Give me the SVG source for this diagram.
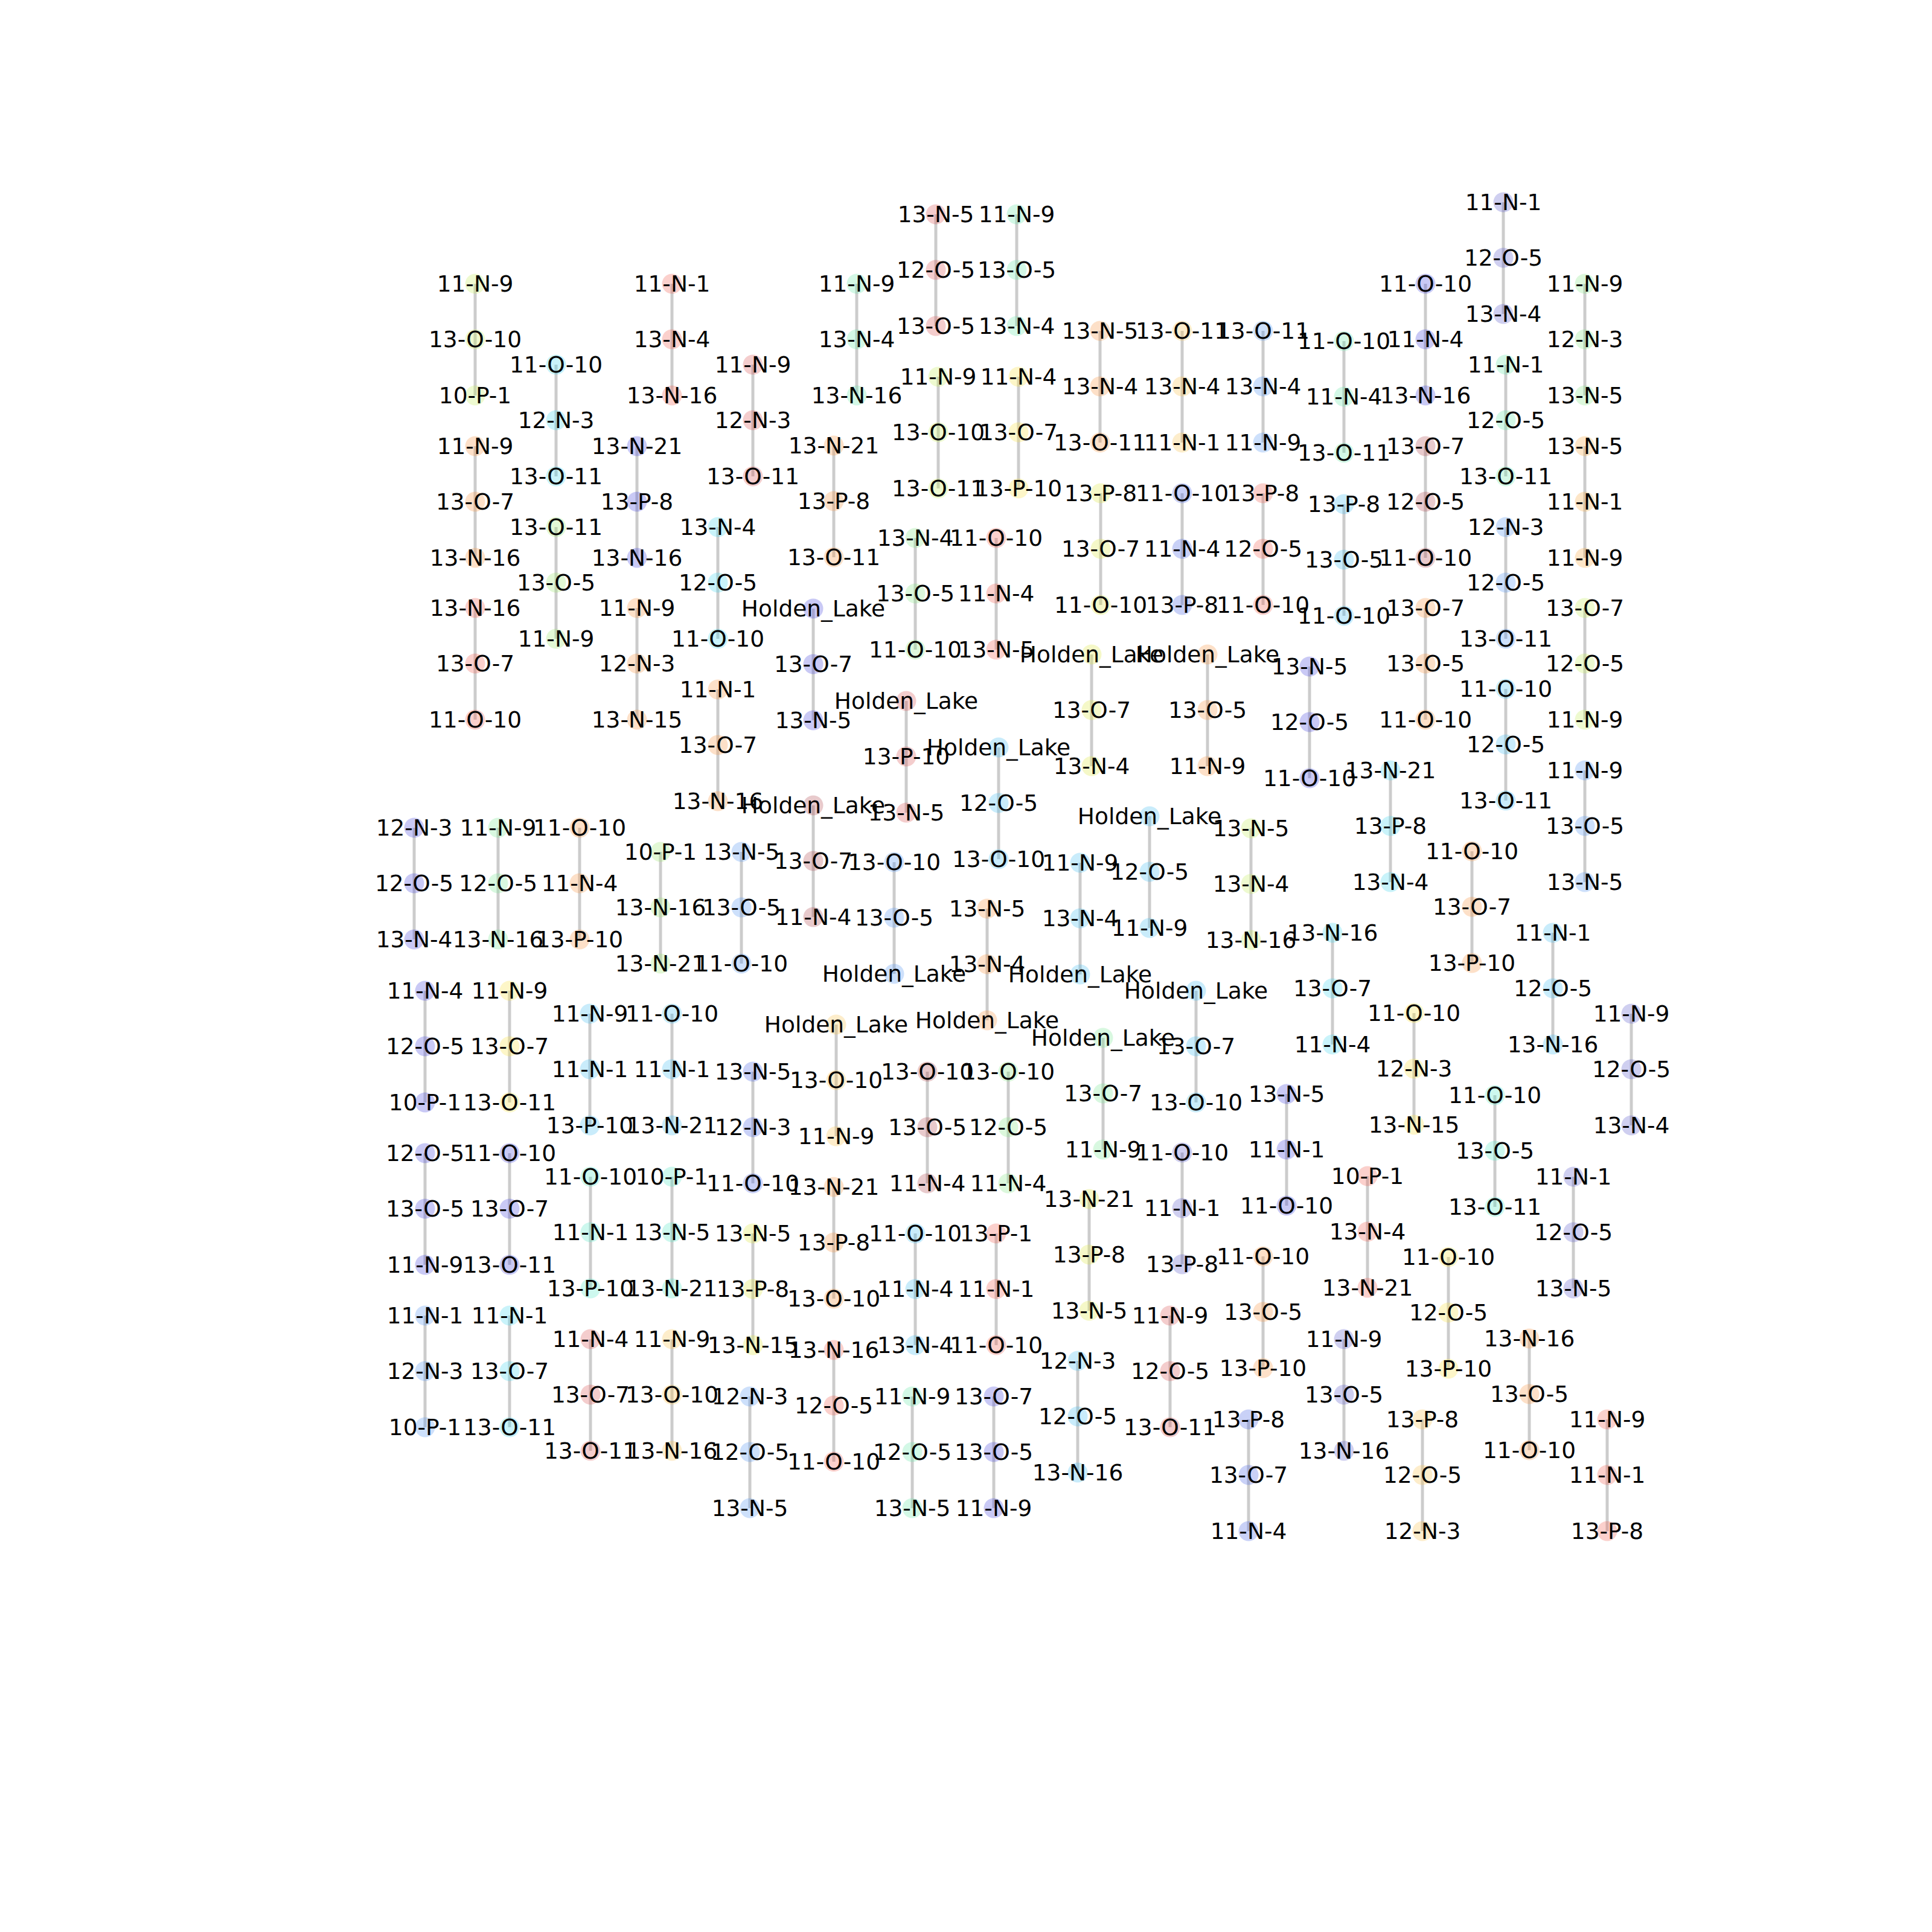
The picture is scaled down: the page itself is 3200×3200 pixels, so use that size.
<svg xmlns="http://www.w3.org/2000/svg" width="3200" height="3200" viewBox="0 0 3200 3200">
<style>
.edges line{stroke:#cccccc;stroke-width:5}
circle{fill-opacity:.3}
text{font-family:"DejaVu Sans","Liberation Sans",sans-serif;font-size:37.5px;text-anchor:middle;fill:#000}
.yg circle{fill:#c6ee62}.orange circle{fill:#f89848}.red circle{fill:#f26255}.cyan circle{fill:#4bd7ee}
.green circle{fill:#9ee873}.violet circle{fill:#4b4bde}.mint circle{fill:#6ce8ac}.yellow circle{fill:#f8e148}
.lightblue circle{fill:#5898f2}.mauve circle{fill:#b24e55}.lightorange circle{fill:#f8c352}.sky circle{fill:#4bc0f2}
.pinkred circle{fill:#da5858}.greyviolet circle{fill:#5f5fcd}.limegreen circle{fill:#8ae88a}.lemon circle{fill:#dee848}
.violetblue circle{fill:#4b66e5}.mintgreen circle{fill:#7de898}.aqua circle{fill:#58e8c6}.amber circle{fill:#f8ac48}
</style>
<rect width="3200" height="3200" fill="#ffffff"/>
<g id="edges" class="edges">
<line x1="787" y1="470" x2="787" y2="562"/><line x1="787" y1="562" x2="787" y2="655"/>
<line x1="787" y1="739" x2="787" y2="831"/><line x1="787" y1="831" x2="787" y2="924"/>
<line x1="787" y1="1007" x2="787" y2="1099"/><line x1="787" y1="1099" x2="787" y2="1192"/>
<line x1="921" y1="604" x2="921" y2="696"/><line x1="921" y1="696" x2="921" y2="789"/>
<line x1="921" y1="873" x2="921" y2="965"/><line x1="921" y1="965" x2="921" y2="1058"/>
<line x1="1113" y1="470" x2="1113" y2="562"/><line x1="1113" y1="562" x2="1113" y2="655"/>
<line x1="1055" y1="739" x2="1055" y2="831"/><line x1="1055" y1="831" x2="1055" y2="924"/>
<line x1="1055" y1="1007" x2="1055" y2="1099"/><line x1="1055" y1="1099" x2="1055" y2="1192"/>
<line x1="1247" y1="604" x2="1247" y2="696"/><line x1="1247" y1="696" x2="1247" y2="789"/>
<line x1="1189" y1="873" x2="1189" y2="965"/><line x1="1189" y1="965" x2="1189" y2="1058"/>
<line x1="1189" y1="1142" x2="1189" y2="1234"/><line x1="1189" y1="1234" x2="1189" y2="1327"/>
<line x1="1419" y1="470" x2="1419" y2="562"/><line x1="1419" y1="562" x2="1419" y2="655"/>
<line x1="1381" y1="738" x2="1381" y2="830"/><line x1="1381" y1="830" x2="1381" y2="923"/>
<line x1="1347" y1="1008" x2="1347" y2="1100"/><line x1="1347" y1="1100" x2="1347" y2="1193"/>
<line x1="1550" y1="355" x2="1550" y2="447"/><line x1="1550" y1="447" x2="1550" y2="540"/>
<line x1="1684" y1="355" x2="1684" y2="447"/><line x1="1684" y1="447" x2="1684" y2="540"/>
<line x1="1554" y1="624" x2="1554" y2="716"/><line x1="1554" y1="716" x2="1554" y2="809"/>
<line x1="1687" y1="624" x2="1687" y2="716"/><line x1="1687" y1="716" x2="1687" y2="809"/>
<line x1="1516" y1="891" x2="1516" y2="983"/><line x1="1516" y1="983" x2="1516" y2="1076"/>
<line x1="1650" y1="891" x2="1650" y2="983"/><line x1="1650" y1="983" x2="1650" y2="1076"/>
<line x1="1501" y1="1161" x2="1501" y2="1253"/><line x1="1501" y1="1253" x2="1501" y2="1346"/>
<line x1="1654" y1="1238" x2="1654" y2="1330"/><line x1="1654" y1="1330" x2="1654" y2="1423"/>
<line x1="1347" y1="1334" x2="1347" y2="1426"/><line x1="1347" y1="1426" x2="1347" y2="1519"/>
<line x1="1481" y1="1428" x2="1481" y2="1520"/><line x1="1481" y1="1520" x2="1481" y2="1613"/>
<line x1="1228" y1="1411" x2="1228" y2="1503"/><line x1="1228" y1="1503" x2="1228" y2="1596"/>
<line x1="1094" y1="1411" x2="1094" y2="1503"/><line x1="1094" y1="1503" x2="1094" y2="1596"/>
<line x1="1822" y1="548" x2="1822" y2="640"/><line x1="1822" y1="640" x2="1822" y2="733"/>
<line x1="1958" y1="548" x2="1958" y2="640"/><line x1="1958" y1="640" x2="1958" y2="733"/>
<line x1="2092" y1="548" x2="2092" y2="640"/><line x1="2092" y1="640" x2="2092" y2="733"/>
<line x1="1823" y1="817" x2="1823" y2="909"/><line x1="1823" y1="909" x2="1823" y2="1002"/>
<line x1="1958" y1="817" x2="1958" y2="909"/><line x1="1958" y1="909" x2="1958" y2="1002"/>
<line x1="2092" y1="817" x2="2092" y2="909"/><line x1="2092" y1="909" x2="2092" y2="1002"/>
<line x1="2226" y1="565" x2="2226" y2="657"/><line x1="2226" y1="657" x2="2226" y2="750"/>
<line x1="2226" y1="835" x2="2226" y2="927"/><line x1="2226" y1="927" x2="2226" y2="1020"/>
<line x1="2361" y1="470" x2="2361" y2="562"/><line x1="2361" y1="562" x2="2361" y2="655"/>
<line x1="2361" y1="739" x2="2361" y2="831"/><line x1="2361" y1="831" x2="2361" y2="924"/>
<line x1="2361" y1="1007" x2="2361" y2="1099"/><line x1="2361" y1="1099" x2="2361" y2="1192"/>
<line x1="2490" y1="335" x2="2490" y2="427"/><line x1="2490" y1="427" x2="2490" y2="520"/>
<line x1="2494" y1="604" x2="2494" y2="696"/><line x1="2494" y1="696" x2="2494" y2="789"/>
<line x1="2494" y1="873" x2="2494" y2="965"/><line x1="2494" y1="965" x2="2494" y2="1058"/>
<line x1="2494" y1="1141" x2="2494" y2="1233"/><line x1="2494" y1="1233" x2="2494" y2="1326"/>
<line x1="2625" y1="470" x2="2625" y2="562"/><line x1="2625" y1="562" x2="2625" y2="655"/>
<line x1="2625" y1="739" x2="2625" y2="831"/><line x1="2625" y1="831" x2="2625" y2="924"/>
<line x1="2625" y1="1007" x2="2625" y2="1099"/><line x1="2625" y1="1099" x2="2625" y2="1192"/>
<line x1="2625" y1="1276" x2="2625" y2="1368"/><line x1="2625" y1="1368" x2="2625" y2="1461"/>
<line x1="1808" y1="1084" x2="1808" y2="1176"/><line x1="1808" y1="1176" x2="1808" y2="1269"/>
<line x1="2000" y1="1084" x2="2000" y2="1176"/><line x1="2000" y1="1176" x2="2000" y2="1269"/>
<line x1="2169" y1="1104" x2="2169" y2="1196"/><line x1="2169" y1="1196" x2="2169" y2="1289"/>
<line x1="1904" y1="1352" x2="1904" y2="1444"/><line x1="1904" y1="1444" x2="1904" y2="1537"/>
<line x1="1789" y1="1429" x2="1789" y2="1521"/><line x1="1789" y1="1521" x2="1789" y2="1614"/>
<line x1="2072" y1="1372" x2="2072" y2="1464"/><line x1="2072" y1="1464" x2="2072" y2="1557"/>
<line x1="2303" y1="1276" x2="2303" y2="1368"/><line x1="2303" y1="1368" x2="2303" y2="1461"/>
<line x1="2207" y1="1545" x2="2207" y2="1637"/><line x1="2207" y1="1637" x2="2207" y2="1730"/>
<line x1="2438" y1="1410" x2="2438" y2="1502"/><line x1="2438" y1="1502" x2="2438" y2="1595"/>
<line x1="2572" y1="1545" x2="2572" y2="1637"/><line x1="2572" y1="1637" x2="2572" y2="1730"/>
<line x1="2702" y1="1679" x2="2702" y2="1771"/><line x1="2702" y1="1771" x2="2702" y2="1864"/>
<line x1="1635" y1="1505" x2="1635" y2="1597"/><line x1="1635" y1="1597" x2="1635" y2="1690"/>
<line x1="1385" y1="1697" x2="1385" y2="1789"/><line x1="1385" y1="1789" x2="1385" y2="1882"/>
<line x1="1981" y1="1641" x2="1981" y2="1733"/><line x1="1981" y1="1733" x2="1981" y2="1826"/>
<line x1="1827" y1="1719" x2="1827" y2="1811"/><line x1="1827" y1="1811" x2="1827" y2="1904"/>
<line x1="686" y1="1371" x2="686" y2="1463"/><line x1="686" y1="1463" x2="686" y2="1556"/>
<line x1="825" y1="1371" x2="825" y2="1463"/><line x1="825" y1="1463" x2="825" y2="1556"/>
<line x1="960" y1="1371" x2="960" y2="1463"/><line x1="960" y1="1463" x2="960" y2="1556"/>
<line x1="704" y1="1641" x2="704" y2="1733"/><line x1="704" y1="1733" x2="704" y2="1826"/>
<line x1="844" y1="1641" x2="844" y2="1733"/><line x1="844" y1="1733" x2="844" y2="1826"/>
<line x1="704" y1="1910" x2="704" y2="2002"/><line x1="704" y1="2002" x2="704" y2="2095"/>
<line x1="844" y1="1910" x2="844" y2="2002"/><line x1="844" y1="2002" x2="844" y2="2095"/>
<line x1="704" y1="2179" x2="704" y2="2271"/><line x1="704" y1="2271" x2="704" y2="2364"/>
<line x1="844" y1="2179" x2="844" y2="2271"/><line x1="844" y1="2271" x2="844" y2="2364"/>
<line x1="977" y1="1679" x2="977" y2="1771"/><line x1="977" y1="1771" x2="977" y2="1864"/>
<line x1="1113" y1="1679" x2="1113" y2="1771"/><line x1="1113" y1="1771" x2="1113" y2="1864"/>
<line x1="978" y1="1949" x2="978" y2="2041"/><line x1="978" y1="2041" x2="978" y2="2134"/>
<line x1="1113" y1="1949" x2="1113" y2="2041"/><line x1="1113" y1="2041" x2="1113" y2="2134"/>
<line x1="978" y1="2218" x2="978" y2="2310"/><line x1="978" y1="2310" x2="978" y2="2403"/>
<line x1="1113" y1="2218" x2="1113" y2="2310"/><line x1="1113" y1="2310" x2="1113" y2="2403"/>
<line x1="1247" y1="1775" x2="1247" y2="1867"/><line x1="1247" y1="1867" x2="1247" y2="1960"/>
<line x1="1247" y1="2043" x2="1247" y2="2135"/><line x1="1247" y1="2135" x2="1247" y2="2228"/>
<line x1="1242" y1="2313" x2="1242" y2="2405"/><line x1="1242" y1="2405" x2="1242" y2="2498"/>
<line x1="1381" y1="1966" x2="1381" y2="2058"/><line x1="1381" y1="2058" x2="1381" y2="2151"/>
<line x1="1381" y1="2236" x2="1381" y2="2328"/><line x1="1381" y1="2328" x2="1381" y2="2421"/>
<line x1="1536" y1="1775" x2="1536" y2="1867"/><line x1="1536" y1="1867" x2="1536" y2="1960"/>
<line x1="1670" y1="1775" x2="1670" y2="1867"/><line x1="1670" y1="1867" x2="1670" y2="1960"/>
<line x1="1516" y1="2043" x2="1516" y2="2135"/><line x1="1516" y1="2135" x2="1516" y2="2228"/>
<line x1="1650" y1="2043" x2="1650" y2="2135"/><line x1="1650" y1="2135" x2="1650" y2="2228"/>
<line x1="1511" y1="2313" x2="1511" y2="2405"/><line x1="1511" y1="2405" x2="1511" y2="2498"/>
<line x1="1646" y1="2313" x2="1646" y2="2405"/><line x1="1646" y1="2405" x2="1646" y2="2498"/>
<line x1="1804" y1="1986" x2="1804" y2="2078"/><line x1="1804" y1="2078" x2="1804" y2="2171"/>
<line x1="1785" y1="2254" x2="1785" y2="2346"/><line x1="1785" y1="2346" x2="1785" y2="2439"/>
<line x1="1958" y1="1909" x2="1958" y2="2001"/><line x1="1958" y1="2001" x2="1958" y2="2094"/>
<line x1="1938" y1="2179" x2="1938" y2="2271"/><line x1="1938" y1="2271" x2="1938" y2="2364"/>
<line x1="2131" y1="1812" x2="2131" y2="1904"/><line x1="2131" y1="1904" x2="2131" y2="1997"/>
<line x1="2092" y1="2081" x2="2092" y2="2173"/><line x1="2092" y1="2173" x2="2092" y2="2266"/>
<line x1="2068" y1="2351" x2="2068" y2="2443"/><line x1="2068" y1="2443" x2="2068" y2="2536"/>
<line x1="2226" y1="2218" x2="2226" y2="2310"/><line x1="2226" y1="2310" x2="2226" y2="2403"/>
<line x1="2265" y1="1948" x2="2265" y2="2040"/><line x1="2265" y1="2040" x2="2265" y2="2133"/>
<line x1="2342" y1="1678" x2="2342" y2="1770"/><line x1="2342" y1="1770" x2="2342" y2="1863"/>
<line x1="2476" y1="1814" x2="2476" y2="1906"/><line x1="2476" y1="1906" x2="2476" y2="1999"/>
<line x1="2399" y1="2082" x2="2399" y2="2174"/><line x1="2399" y1="2174" x2="2399" y2="2267"/>
<line x1="2606" y1="1949" x2="2606" y2="2041"/><line x1="2606" y1="2041" x2="2606" y2="2134"/>
<line x1="2533" y1="2217" x2="2533" y2="2309"/><line x1="2533" y1="2309" x2="2533" y2="2402"/>
<line x1="2356" y1="2351" x2="2356" y2="2443"/><line x1="2356" y1="2443" x2="2356" y2="2536"/>
<line x1="2662" y1="2351" x2="2662" y2="2443"/><line x1="2662" y1="2443" x2="2662" y2="2536"/>
</g>
<g id="nodes">
<g id="n1a" class="yg"><circle cx="787" cy="470" r="16.5"/><text x="787" y="483">11-N-9</text></g>
<g id="n1b" class="yg"><circle cx="787" cy="562" r="16.5"/><text x="787" y="575">13-O-10</text></g>
<g id="n1c" class="yg"><circle cx="787" cy="655" r="16.5"/><text x="787" y="668">10-P-1</text></g>
<g id="n2a" class="orange"><circle cx="787" cy="739" r="16.5"/><text x="787" y="752">11-N-9</text></g>
<g id="n2b" class="orange"><circle cx="787" cy="831" r="16.5"/><text x="787" y="844">13-O-7</text></g>
<g id="n2c" class="orange"><circle cx="787" cy="924" r="16.5"/><text x="787" y="937">13-N-16</text></g>
<g id="n3a" class="red"><circle cx="787" cy="1007" r="16.5"/><text x="787" y="1020">13-N-16</text></g>
<g id="n3b" class="red"><circle cx="787" cy="1099" r="16.5"/><text x="787" y="1112">13-O-7</text></g>
<g id="n3c" class="red"><circle cx="787" cy="1192" r="16.5"/><text x="787" y="1205">11-O-10</text></g>
<g id="n4a" class="cyan"><circle cx="921" cy="604" r="16.5"/><text x="921" y="617">11-O-10</text></g>
<g id="n4b" class="cyan"><circle cx="921" cy="696" r="16.5"/><text x="921" y="709">12-N-3</text></g>
<g id="n4c" class="cyan"><circle cx="921" cy="789" r="16.5"/><text x="921" y="802">13-O-11</text></g>
<g id="n5a" class="green"><circle cx="921" cy="873" r="16.5"/><text x="921" y="886">13-O-11</text></g>
<g id="n5b" class="green"><circle cx="921" cy="965" r="16.5"/><text x="921" y="978">13-O-5</text></g>
<g id="n5c" class="green"><circle cx="921" cy="1058" r="16.5"/><text x="921" y="1071">11-N-9</text></g>
<g id="n6a" class="red"><circle cx="1113" cy="470" r="16.5"/><text x="1113" y="483">11-N-1</text></g>
<g id="n6b" class="red"><circle cx="1113" cy="562" r="16.5"/><text x="1113" y="575">13-N-4</text></g>
<g id="n6c" class="red"><circle cx="1113" cy="655" r="16.5"/><text x="1113" y="668">13-N-16</text></g>
<g id="n7a" class="violet"><circle cx="1055" cy="739" r="16.5"/><text x="1055" y="752">13-N-21</text></g>
<g id="n7b" class="violet"><circle cx="1055" cy="831" r="16.5"/><text x="1055" y="844">13-P-8</text></g>
<g id="n7c" class="violet"><circle cx="1055" cy="924" r="16.5"/><text x="1055" y="937">13-N-16</text></g>
<g id="n8a" class="orange"><circle cx="1055" cy="1007" r="16.5"/><text x="1055" y="1020">11-N-9</text></g>
<g id="n8b" class="orange"><circle cx="1055" cy="1099" r="16.5"/><text x="1055" y="1112">12-N-3</text></g>
<g id="n8c" class="orange"><circle cx="1055" cy="1192" r="16.5"/><text x="1055" y="1205">13-N-15</text></g>
<g id="n9a" class="pinkred"><circle cx="1247" cy="604" r="16.5"/><text x="1247" y="617">11-N-9</text></g>
<g id="n9b" class="pinkred"><circle cx="1247" cy="696" r="16.5"/><text x="1247" y="709">12-N-3</text></g>
<g id="n9c" class="pinkred"><circle cx="1247" cy="789" r="16.5"/><text x="1247" y="802">13-O-11</text></g>
<g id="n10a" class="cyan"><circle cx="1189" cy="873" r="16.5"/><text x="1189" y="886">13-N-4</text></g>
<g id="n10b" class="cyan"><circle cx="1189" cy="965" r="16.5"/><text x="1189" y="978">12-O-5</text></g>
<g id="n10c" class="cyan"><circle cx="1189" cy="1058" r="16.5"/><text x="1189" y="1071">11-O-10</text></g>
<g id="n11a" class="orange"><circle cx="1189" cy="1142" r="16.5"/><text x="1189" y="1155">11-N-1</text></g>
<g id="n11b" class="orange"><circle cx="1189" cy="1234" r="16.5"/><text x="1189" y="1247">13-O-7</text></g>
<g id="n11c" class="orange"><circle cx="1189" cy="1327" r="16.5"/><text x="1189" y="1340">13-N-16</text></g>
<g id="n12a" class="mint"><circle cx="1419" cy="470" r="16.5"/><text x="1419" y="483">11-N-9</text></g>
<g id="n12b" class="mint"><circle cx="1419" cy="562" r="16.5"/><text x="1419" y="575">13-N-4</text></g>
<g id="n12c" class="mint"><circle cx="1419" cy="655" r="16.5"/><text x="1419" y="668">13-N-16</text></g>
<g id="n13a" class="orange"><circle cx="1381" cy="738" r="16.5"/><text x="1381" y="751">13-N-21</text></g>
<g id="n13b" class="orange"><circle cx="1381" cy="830" r="16.5"/><text x="1381" y="843">13-P-8</text></g>
<g id="n13c" class="orange"><circle cx="1381" cy="923" r="16.5"/><text x="1381" y="936">13-O-11</text></g>
<g id="n14a" class="violet"><circle cx="1347" cy="1008" r="16.5"/><text x="1347" y="1021">Holden_Lake</text></g>
<g id="n14b" class="violet"><circle cx="1347" cy="1100" r="16.5"/><text x="1347" y="1113">13-O-7</text></g>
<g id="n14c" class="violet"><circle cx="1347" cy="1193" r="16.5"/><text x="1347" y="1206">13-N-5</text></g>
<g id="n15a" class="pinkred"><circle cx="1550" cy="355" r="16.5"/><text x="1550" y="368">13-N-5</text></g>
<g id="n15b" class="pinkred"><circle cx="1550" cy="447" r="16.5"/><text x="1550" y="460">12-O-5</text></g>
<g id="n15c" class="pinkred"><circle cx="1550" cy="540" r="16.5"/><text x="1550" y="553">13-O-5</text></g>
<g id="n16a" class="mint"><circle cx="1684" cy="355" r="16.5"/><text x="1684" y="368">11-N-9</text></g>
<g id="n16b" class="mint"><circle cx="1684" cy="447" r="16.5"/><text x="1684" y="460">13-O-5</text></g>
<g id="n16c" class="mint"><circle cx="1684" cy="540" r="16.5"/><text x="1684" y="553">13-N-4</text></g>
<g id="n17a" class="yg"><circle cx="1554" cy="624" r="16.5"/><text x="1554" y="637">11-N-9</text></g>
<g id="n17b" class="yg"><circle cx="1554" cy="716" r="16.5"/><text x="1554" y="729">13-O-10</text></g>
<g id="n17c" class="yg"><circle cx="1554" cy="809" r="16.5"/><text x="1554" y="822">13-O-11</text></g>
<g id="n18a" class="yellow"><circle cx="1687" cy="624" r="16.5"/><text x="1687" y="637">11-N-4</text></g>
<g id="n18b" class="yellow"><circle cx="1687" cy="716" r="16.5"/><text x="1687" y="729">13-O-7</text></g>
<g id="n18c" class="yellow"><circle cx="1687" cy="809" r="16.5"/><text x="1687" y="822">13-P-10</text></g>
<g id="n19a" class="limegreen"><circle cx="1516" cy="891" r="16.5"/><text x="1516" y="904">13-N-4</text></g>
<g id="n19b" class="limegreen"><circle cx="1516" cy="983" r="16.5"/><text x="1516" y="996">13-O-5</text></g>
<g id="n19c" class="limegreen"><circle cx="1516" cy="1076" r="16.5"/><text x="1516" y="1089">11-O-10</text></g>
<g id="n20a" class="red"><circle cx="1650" cy="891" r="16.5"/><text x="1650" y="904">11-O-10</text></g>
<g id="n20b" class="red"><circle cx="1650" cy="983" r="16.5"/><text x="1650" y="996">11-N-4</text></g>
<g id="n20c" class="red"><circle cx="1650" cy="1076" r="16.5"/><text x="1650" y="1089">13-N-5</text></g>
<g id="n21a" class="pinkred"><circle cx="1501" cy="1161" r="16.5"/><text x="1501" y="1174">Holden_Lake</text></g>
<g id="n21b" class="pinkred"><circle cx="1501" cy="1253" r="16.5"/><text x="1501" y="1266">13-P-10</text></g>
<g id="n21c" class="pinkred"><circle cx="1501" cy="1346" r="16.5"/><text x="1501" y="1359">13-N-5</text></g>
<g id="n22a" class="sky"><circle cx="1654" cy="1238" r="16.5"/><text x="1654" y="1251">Holden_Lake</text></g>
<g id="n22b" class="sky"><circle cx="1654" cy="1330" r="16.5"/><text x="1654" y="1343">12-O-5</text></g>
<g id="n22c" class="sky"><circle cx="1654" cy="1423" r="16.5"/><text x="1654" y="1436">13-O-10</text></g>
<g id="n23a" class="mauve"><circle cx="1347" cy="1334" r="16.5"/><text x="1347" y="1347">Holden_Lake</text></g>
<g id="n23b" class="mauve"><circle cx="1347" cy="1426" r="16.5"/><text x="1347" y="1439">13-O-7</text></g>
<g id="n23c" class="mauve"><circle cx="1347" cy="1519" r="16.5"/><text x="1347" y="1532">11-N-4</text></g>
<g id="n24a" class="lightblue"><circle cx="1481" cy="1428" r="16.5"/><text x="1481" y="1441">13-O-10</text></g>
<g id="n24b" class="lightblue"><circle cx="1481" cy="1520" r="16.5"/><text x="1481" y="1533">13-O-5</text></g>
<g id="n24c" class="lightblue"><circle cx="1481" cy="1613" r="16.5"/><text x="1481" y="1626">Holden_Lake</text></g>
<g id="n25a" class="lightblue"><circle cx="1228" cy="1411" r="16.5"/><text x="1228" y="1424">13-N-5</text></g>
<g id="n25b" class="lightblue"><circle cx="1228" cy="1503" r="16.5"/><text x="1228" y="1516">13-O-5</text></g>
<g id="n25c" class="lightblue"><circle cx="1228" cy="1596" r="16.5"/><text x="1228" y="1609">11-O-10</text></g>
<g id="n26a" class="green"><circle cx="1094" cy="1411" r="16.5"/><text x="1094" y="1424">10-P-1</text></g>
<g id="n26b" class="green"><circle cx="1094" cy="1503" r="16.5"/><text x="1094" y="1516">13-N-16</text></g>
<g id="n26c" class="green"><circle cx="1094" cy="1596" r="16.5"/><text x="1094" y="1609">13-N-21</text></g>
<g id="n27a" class="orange"><circle cx="1822" cy="548" r="16.5"/><text x="1822" y="561">13-N-5</text></g>
<g id="n27b" class="orange"><circle cx="1822" cy="640" r="16.5"/><text x="1822" y="653">13-N-4</text></g>
<g id="n27c" class="orange"><circle cx="1822" cy="733" r="16.5"/><text x="1822" y="746">13-O-11</text></g>
<g id="n28a" class="lightorange"><circle cx="1958" cy="548" r="16.5"/><text x="1958" y="561">13-O-11</text></g>
<g id="n28b" class="lightorange"><circle cx="1958" cy="640" r="16.5"/><text x="1958" y="653">13-N-4</text></g>
<g id="n28c" class="lightorange"><circle cx="1958" cy="733" r="16.5"/><text x="1958" y="746">11-N-1</text></g>
<g id="n29a" class="lightblue"><circle cx="2092" cy="548" r="16.5"/><text x="2092" y="561">13-O-11</text></g>
<g id="n29b" class="lightblue"><circle cx="2092" cy="640" r="16.5"/><text x="2092" y="653">13-N-4</text></g>
<g id="n29c" class="lightblue"><circle cx="2092" cy="733" r="16.5"/><text x="2092" y="746">11-N-9</text></g>
<g id="n30a" class="lemon"><circle cx="1823" cy="817" r="16.5"/><text x="1823" y="830">13-P-8</text></g>
<g id="n30b" class="lemon"><circle cx="1823" cy="909" r="16.5"/><text x="1823" y="922">13-O-7</text></g>
<g id="n30c" class="lemon"><circle cx="1823" cy="1002" r="16.5"/><text x="1823" y="1015">11-O-10</text></g>
<g id="n31a" class="violetblue"><circle cx="1958" cy="817" r="16.5"/><text x="1958" y="830">11-O-10</text></g>
<g id="n31b" class="violetblue"><circle cx="1958" cy="909" r="16.5"/><text x="1958" y="922">11-N-4</text></g>
<g id="n31c" class="violetblue"><circle cx="1958" cy="1002" r="16.5"/><text x="1958" y="1015">13-P-8</text></g>
<g id="n32a" class="red"><circle cx="2092" cy="817" r="16.5"/><text x="2092" y="830">13-P-8</text></g>
<g id="n32b" class="red"><circle cx="2092" cy="909" r="16.5"/><text x="2092" y="922">12-O-5</text></g>
<g id="n32c" class="red"><circle cx="2092" cy="1002" r="16.5"/><text x="2092" y="1015">11-O-10</text></g>
<g id="n33a" class="mint"><circle cx="2226" cy="565" r="16.5"/><text x="2226" y="578">11-O-10</text></g>
<g id="n33b" class="mint"><circle cx="2226" cy="657" r="16.5"/><text x="2226" y="670">11-N-4</text></g>
<g id="n33c" class="mint"><circle cx="2226" cy="750" r="16.5"/><text x="2226" y="763">13-O-11</text></g>
<g id="n34a" class="sky"><circle cx="2226" cy="835" r="16.5"/><text x="2226" y="848">13-P-8</text></g>
<g id="n34b" class="sky"><circle cx="2226" cy="927" r="16.5"/><text x="2226" y="940">13-O-5</text></g>
<g id="n34c" class="sky"><circle cx="2226" cy="1020" r="16.5"/><text x="2226" y="1033">11-O-10</text></g>
<g id="n35a" class="violet"><circle cx="2361" cy="470" r="16.5"/><text x="2361" y="483">11-O-10</text></g>
<g id="n35b" class="violet"><circle cx="2361" cy="562" r="16.5"/><text x="2361" y="575">11-N-4</text></g>
<g id="n35c" class="violet"><circle cx="2361" cy="655" r="16.5"/><text x="2361" y="668">13-N-16</text></g>
<g id="n36a" class="mauve"><circle cx="2361" cy="739" r="16.5"/><text x="2361" y="752">13-O-7</text></g>
<g id="n36b" class="mauve"><circle cx="2361" cy="831" r="16.5"/><text x="2361" y="844">12-O-5</text></g>
<g id="n36c" class="mauve"><circle cx="2361" cy="924" r="16.5"/><text x="2361" y="937">11-O-10</text></g>
<g id="n37a" class="orange"><circle cx="2361" cy="1007" r="16.5"/><text x="2361" y="1020">13-O-7</text></g>
<g id="n37b" class="orange"><circle cx="2361" cy="1099" r="16.5"/><text x="2361" y="1112">13-O-5</text></g>
<g id="n37c" class="orange"><circle cx="2361" cy="1192" r="16.5"/><text x="2361" y="1205">11-O-10</text></g>
<g id="n38a" class="greyviolet"><circle cx="2490" cy="335" r="16.5"/><text x="2490" y="348">11-N-1</text></g>
<g id="n38b" class="greyviolet"><circle cx="2490" cy="427" r="16.5"/><text x="2490" y="440">12-O-5</text></g>
<g id="n38c" class="greyviolet"><circle cx="2490" cy="520" r="16.5"/><text x="2490" y="533">13-N-4</text></g>
<g id="n39a" class="mint"><circle cx="2494" cy="604" r="16.5"/><text x="2494" y="617">11-N-1</text></g>
<g id="n39b" class="mint"><circle cx="2494" cy="696" r="16.5"/><text x="2494" y="709">12-O-5</text></g>
<g id="n39c" class="mint"><circle cx="2494" cy="789" r="16.5"/><text x="2494" y="802">13-O-11</text></g>
<g id="n40a" class="lightblue"><circle cx="2494" cy="873" r="16.5"/><text x="2494" y="886">12-N-3</text></g>
<g id="n40b" class="lightblue"><circle cx="2494" cy="965" r="16.5"/><text x="2494" y="978">12-O-5</text></g>
<g id="n40c" class="lightblue"><circle cx="2494" cy="1058" r="16.5"/><text x="2494" y="1071">13-O-11</text></g>
<g id="n41a" class="sky"><circle cx="2494" cy="1141" r="16.5"/><text x="2494" y="1154">11-O-10</text></g>
<g id="n41b" class="sky"><circle cx="2494" cy="1233" r="16.5"/><text x="2494" y="1246">12-O-5</text></g>
<g id="n41c" class="sky"><circle cx="2494" cy="1326" r="16.5"/><text x="2494" y="1339">13-O-11</text></g>
<g id="n42a" class="limegreen"><circle cx="2625" cy="470" r="16.5"/><text x="2625" y="483">11-N-9</text></g>
<g id="n42b" class="limegreen"><circle cx="2625" cy="562" r="16.5"/><text x="2625" y="575">12-N-3</text></g>
<g id="n42c" class="limegreen"><circle cx="2625" cy="655" r="16.5"/><text x="2625" y="668">13-N-5</text></g>
<g id="n43a" class="amber"><circle cx="2625" cy="739" r="16.5"/><text x="2625" y="752">13-N-5</text></g>
<g id="n43b" class="amber"><circle cx="2625" cy="831" r="16.5"/><text x="2625" y="844">11-N-1</text></g>
<g id="n43c" class="amber"><circle cx="2625" cy="924" r="16.5"/><text x="2625" y="937">11-N-9</text></g>
<g id="n44a" class="yg"><circle cx="2625" cy="1007" r="16.5"/><text x="2625" y="1020">13-O-7</text></g>
<g id="n44b" class="yg"><circle cx="2625" cy="1099" r="16.5"/><text x="2625" y="1112">12-O-5</text></g>
<g id="n44c" class="yg"><circle cx="2625" cy="1192" r="16.5"/><text x="2625" y="1205">11-N-9</text></g>
<g id="n45a" class="lightblue"><circle cx="2625" cy="1276" r="16.5"/><text x="2625" y="1289">11-N-9</text></g>
<g id="n45b" class="lightblue"><circle cx="2625" cy="1368" r="16.5"/><text x="2625" y="1381">13-O-5</text></g>
<g id="n45c" class="lightblue"><circle cx="2625" cy="1461" r="16.5"/><text x="2625" y="1474">13-N-5</text></g>
<g id="n46a" class="lemon"><circle cx="1808" cy="1084" r="16.5"/><text x="1808" y="1097">Holden_Lake</text></g>
<g id="n46b" class="lemon"><circle cx="1808" cy="1176" r="16.5"/><text x="1808" y="1189">13-O-7</text></g>
<g id="n46c" class="lemon"><circle cx="1808" cy="1269" r="16.5"/><text x="1808" y="1282">13-N-4</text></g>
<g id="n47a" class="orange"><circle cx="2000" cy="1084" r="16.5"/><text x="2000" y="1097">Holden_Lake</text></g>
<g id="n47b" class="orange"><circle cx="2000" cy="1176" r="16.5"/><text x="2000" y="1189">13-O-5</text></g>
<g id="n47c" class="orange"><circle cx="2000" cy="1269" r="16.5"/><text x="2000" y="1282">11-N-9</text></g>
<g id="n48a" class="violet"><circle cx="2169" cy="1104" r="16.5"/><text x="2169" y="1117">13-N-5</text></g>
<g id="n48b" class="violet"><circle cx="2169" cy="1196" r="16.5"/><text x="2169" y="1209">12-O-5</text></g>
<g id="n48c" class="violet"><circle cx="2169" cy="1289" r="16.5"/><text x="2169" y="1302">11-O-10</text></g>
<g id="n49a" class="sky"><circle cx="1904" cy="1352" r="16.5"/><text x="1904" y="1365">Holden_Lake</text></g>
<g id="n49b" class="sky"><circle cx="1904" cy="1444" r="16.5"/><text x="1904" y="1457">12-O-5</text></g>
<g id="n49c" class="sky"><circle cx="1904" cy="1537" r="16.5"/><text x="1904" y="1550">11-N-9</text></g>
<g id="n50a" class="sky"><circle cx="1789" cy="1429" r="16.5"/><text x="1789" y="1442">11-N-9</text></g>
<g id="n50b" class="sky"><circle cx="1789" cy="1521" r="16.5"/><text x="1789" y="1534">13-N-4</text></g>
<g id="n50c" class="sky"><circle cx="1789" cy="1614" r="16.5"/><text x="1789" y="1627">Holden_Lake</text></g>
<g id="n51a" class="yg"><circle cx="2072" cy="1372" r="16.5"/><text x="2072" y="1385">13-N-5</text></g>
<g id="n51b" class="yg"><circle cx="2072" cy="1464" r="16.5"/><text x="2072" y="1477">13-N-4</text></g>
<g id="n51c" class="yg"><circle cx="2072" cy="1557" r="16.5"/><text x="2072" y="1570">13-N-16</text></g>
<g id="n52a" class="cyan"><circle cx="2303" cy="1276" r="16.5"/><text x="2303" y="1289">13-N-21</text></g>
<g id="n52b" class="cyan"><circle cx="2303" cy="1368" r="16.5"/><text x="2303" y="1381">13-P-8</text></g>
<g id="n52c" class="cyan"><circle cx="2303" cy="1461" r="16.5"/><text x="2303" y="1474">13-N-4</text></g>
<g id="n53a" class="cyan"><circle cx="2207" cy="1545" r="16.5"/><text x="2207" y="1558">13-N-16</text></g>
<g id="n53b" class="cyan"><circle cx="2207" cy="1637" r="16.5"/><text x="2207" y="1650">13-O-7</text></g>
<g id="n53c" class="cyan"><circle cx="2207" cy="1730" r="16.5"/><text x="2207" y="1743">11-N-4</text></g>
<g id="n54a" class="orange"><circle cx="2438" cy="1410" r="16.5"/><text x="2438" y="1423">11-O-10</text></g>
<g id="n54b" class="orange"><circle cx="2438" cy="1502" r="16.5"/><text x="2438" y="1515">13-O-7</text></g>
<g id="n54c" class="orange"><circle cx="2438" cy="1595" r="16.5"/><text x="2438" y="1608">13-P-10</text></g>
<g id="n55a" class="sky"><circle cx="2572" cy="1545" r="16.5"/><text x="2572" y="1558">11-N-1</text></g>
<g id="n55b" class="sky"><circle cx="2572" cy="1637" r="16.5"/><text x="2572" y="1650">12-O-5</text></g>
<g id="n55c" class="sky"><circle cx="2572" cy="1730" r="16.5"/><text x="2572" y="1743">13-N-16</text></g>
<g id="n56a" class="greyviolet"><circle cx="2702" cy="1679" r="16.5"/><text x="2702" y="1692">11-N-9</text></g>
<g id="n56b" class="greyviolet"><circle cx="2702" cy="1771" r="16.5"/><text x="2702" y="1784">12-O-5</text></g>
<g id="n56c" class="greyviolet"><circle cx="2702" cy="1864" r="16.5"/><text x="2702" y="1877">13-N-4</text></g>
<g id="n57a" class="orange"><circle cx="1635" cy="1505" r="16.5"/><text x="1635" y="1518">13-N-5</text></g>
<g id="n57b" class="orange"><circle cx="1635" cy="1597" r="16.5"/><text x="1635" y="1610">13-N-4</text></g>
<g id="n57c" class="orange"><circle cx="1635" cy="1690" r="16.5"/><text x="1635" y="1703">Holden_Lake</text></g>
<g id="n58a" class="lightorange"><circle cx="1385" cy="1697" r="16.5"/><text x="1385" y="1710">Holden_Lake</text></g>
<g id="n58b" class="lightorange"><circle cx="1385" cy="1789" r="16.5"/><text x="1385" y="1802">13-O-10</text></g>
<g id="n58c" class="lightorange"><circle cx="1385" cy="1882" r="16.5"/><text x="1385" y="1895">11-N-9</text></g>
<g id="n59a" class="sky"><circle cx="1981" cy="1641" r="16.5"/><text x="1981" y="1654">Holden_Lake</text></g>
<g id="n59b" class="sky"><circle cx="1981" cy="1733" r="16.5"/><text x="1981" y="1746">13-O-7</text></g>
<g id="n59c" class="sky"><circle cx="1981" cy="1826" r="16.5"/><text x="1981" y="1839">13-O-10</text></g>
<g id="n60a" class="mintgreen"><circle cx="1827" cy="1719" r="16.5"/><text x="1827" y="1732">Holden_Lake</text></g>
<g id="n60b" class="mintgreen"><circle cx="1827" cy="1811" r="16.5"/><text x="1827" y="1824">13-O-7</text></g>
<g id="n60c" class="mintgreen"><circle cx="1827" cy="1904" r="16.5"/><text x="1827" y="1917">11-N-9</text></g>
<g id="n61a" class="violet"><circle cx="686" cy="1371" r="16.5"/><text x="686" y="1384">12-N-3</text></g>
<g id="n61b" class="violet"><circle cx="686" cy="1463" r="16.5"/><text x="686" y="1476">12-O-5</text></g>
<g id="n61c" class="violet"><circle cx="686" cy="1556" r="16.5"/><text x="686" y="1569">13-N-4</text></g>
<g id="n62a" class="mintgreen"><circle cx="825" cy="1371" r="16.5"/><text x="825" y="1384">11-N-9</text></g>
<g id="n62b" class="mintgreen"><circle cx="825" cy="1463" r="16.5"/><text x="825" y="1476">12-O-5</text></g>
<g id="n62c" class="mintgreen"><circle cx="825" cy="1556" r="16.5"/><text x="825" y="1569">13-N-16</text></g>
<g id="n63a" class="orange"><circle cx="960" cy="1371" r="16.5"/><text x="960" y="1384">11-O-10</text></g>
<g id="n63b" class="orange"><circle cx="960" cy="1463" r="16.5"/><text x="960" y="1476">11-N-4</text></g>
<g id="n63c" class="orange"><circle cx="960" cy="1556" r="16.5"/><text x="960" y="1569">13-P-10</text></g>
<g id="n64a" class="violet"><circle cx="704" cy="1641" r="16.5"/><text x="704" y="1654">11-N-4</text></g>
<g id="n64b" class="violet"><circle cx="704" cy="1733" r="16.5"/><text x="704" y="1746">12-O-5</text></g>
<g id="n64c" class="violet"><circle cx="704" cy="1826" r="16.5"/><text x="704" y="1839">10-P-1</text></g>
<g id="n65a" class="yellow"><circle cx="844" cy="1641" r="16.5"/><text x="844" y="1654">11-N-9</text></g>
<g id="n65b" class="yellow"><circle cx="844" cy="1733" r="16.5"/><text x="844" y="1746">13-O-7</text></g>
<g id="n65c" class="yellow"><circle cx="844" cy="1826" r="16.5"/><text x="844" y="1839">13-O-11</text></g>
<g id="n66a" class="violet"><circle cx="704" cy="1910" r="16.5"/><text x="704" y="1923">12-O-5</text></g>
<g id="n66b" class="violet"><circle cx="704" cy="2002" r="16.5"/><text x="704" y="2015">13-O-5</text></g>
<g id="n66c" class="violet"><circle cx="704" cy="2095" r="16.5"/><text x="704" y="2108">11-N-9</text></g>
<g id="n67a" class="violet"><circle cx="844" cy="1910" r="16.5"/><text x="844" y="1923">11-O-10</text></g>
<g id="n67b" class="violet"><circle cx="844" cy="2002" r="16.5"/><text x="844" y="2015">13-O-7</text></g>
<g id="n67c" class="violet"><circle cx="844" cy="2095" r="16.5"/><text x="844" y="2108">13-O-11</text></g>
<g id="n68a" class="lightblue"><circle cx="704" cy="2179" r="16.5"/><text x="704" y="2192">11-N-1</text></g>
<g id="n68b" class="lightblue"><circle cx="704" cy="2271" r="16.5"/><text x="704" y="2284">12-N-3</text></g>
<g id="n68c" class="lightblue"><circle cx="704" cy="2364" r="16.5"/><text x="704" y="2377">10-P-1</text></g>
<g id="n69a" class="cyan"><circle cx="844" cy="2179" r="16.5"/><text x="844" y="2192">11-N-1</text></g>
<g id="n69b" class="cyan"><circle cx="844" cy="2271" r="16.5"/><text x="844" y="2284">13-O-7</text></g>
<g id="n69c" class="cyan"><circle cx="844" cy="2364" r="16.5"/><text x="844" y="2377">13-O-11</text></g>
<g id="n70a" class="sky"><circle cx="977" cy="1679" r="16.5"/><text x="977" y="1692">11-N-9</text></g>
<g id="n70b" class="sky"><circle cx="977" cy="1771" r="16.5"/><text x="977" y="1784">11-N-1</text></g>
<g id="n70c" class="sky"><circle cx="977" cy="1864" r="16.5"/><text x="977" y="1877">13-P-10</text></g>
<g id="n71a" class="sky"><circle cx="1113" cy="1679" r="16.5"/><text x="1113" y="1692">11-O-10</text></g>
<g id="n71b" class="sky"><circle cx="1113" cy="1771" r="16.5"/><text x="1113" y="1784">11-N-1</text></g>
<g id="n71c" class="sky"><circle cx="1113" cy="1864" r="16.5"/><text x="1113" y="1877">13-N-21</text></g>
<g id="n72a" class="aqua"><circle cx="978" cy="1949" r="16.5"/><text x="978" y="1962">11-O-10</text></g>
<g id="n72b" class="aqua"><circle cx="978" cy="2041" r="16.5"/><text x="978" y="2054">11-N-1</text></g>
<g id="n72c" class="aqua"><circle cx="978" cy="2134" r="16.5"/><text x="978" y="2147">13-P-10</text></g>
<g id="n73a" class="aqua"><circle cx="1113" cy="1949" r="16.5"/><text x="1113" y="1962">10-P-1</text></g>
<g id="n73b" class="aqua"><circle cx="1113" cy="2041" r="16.5"/><text x="1113" y="2054">13-N-5</text></g>
<g id="n73c" class="aqua"><circle cx="1113" cy="2134" r="16.5"/><text x="1113" y="2147">13-N-21</text></g>
<g id="n74a" class="pinkred"><circle cx="978" cy="2218" r="16.5"/><text x="978" y="2231">11-N-4</text></g>
<g id="n74b" class="pinkred"><circle cx="978" cy="2310" r="16.5"/><text x="978" y="2323">13-O-7</text></g>
<g id="n74c" class="pinkred"><circle cx="978" cy="2403" r="16.5"/><text x="978" y="2416">13-O-11</text></g>
<g id="n75a" class="lightorange"><circle cx="1113" cy="2218" r="16.5"/><text x="1113" y="2231">11-N-9</text></g>
<g id="n75b" class="lightorange"><circle cx="1113" cy="2310" r="16.5"/><text x="1113" y="2323">13-O-10</text></g>
<g id="n75c" class="lightorange"><circle cx="1113" cy="2403" r="16.5"/><text x="1113" y="2416">13-N-16</text></g>
<g id="n76a" class="violetblue"><circle cx="1247" cy="1775" r="16.5"/><text x="1247" y="1788">13-N-5</text></g>
<g id="n76b" class="violetblue"><circle cx="1247" cy="1867" r="16.5"/><text x="1247" y="1880">12-N-3</text></g>
<g id="n76c" class="violetblue"><circle cx="1247" cy="1960" r="16.5"/><text x="1247" y="1973">11-O-10</text></g>
<g id="n77a" class="lemon"><circle cx="1247" cy="2043" r="16.5"/><text x="1247" y="2056">13-N-5</text></g>
<g id="n77b" class="lemon"><circle cx="1247" cy="2135" r="16.5"/><text x="1247" y="2148">13-P-8</text></g>
<g id="n77c" class="lemon"><circle cx="1247" cy="2228" r="16.5"/><text x="1247" y="2241">13-N-15</text></g>
<g id="n78a" class="lightblue"><circle cx="1242" cy="2313" r="16.5"/><text x="1242" y="2326">12-N-3</text></g>
<g id="n78b" class="lightblue"><circle cx="1242" cy="2405" r="16.5"/><text x="1242" y="2418">12-O-5</text></g>
<g id="n78c" class="lightblue"><circle cx="1242" cy="2498" r="16.5"/><text x="1242" y="2511">13-N-5</text></g>
<g id="n79a" class="orange"><circle cx="1381" cy="1966" r="16.5"/><text x="1381" y="1979">13-N-21</text></g>
<g id="n79b" class="orange"><circle cx="1381" cy="2058" r="16.5"/><text x="1381" y="2071">13-P-8</text></g>
<g id="n79c" class="orange"><circle cx="1381" cy="2151" r="16.5"/><text x="1381" y="2164">13-O-10</text></g>
<g id="n80a" class="red"><circle cx="1381" cy="2236" r="16.5"/><text x="1381" y="2249">13-N-16</text></g>
<g id="n80b" class="red"><circle cx="1381" cy="2328" r="16.5"/><text x="1381" y="2341">12-O-5</text></g>
<g id="n80c" class="red"><circle cx="1381" cy="2421" r="16.5"/><text x="1381" y="2434">11-O-10</text></g>
<g id="n81a" class="mauve"><circle cx="1536" cy="1775" r="16.5"/><text x="1536" y="1788">13-O-10</text></g>
<g id="n81b" class="mauve"><circle cx="1536" cy="1867" r="16.5"/><text x="1536" y="1880">13-O-5</text></g>
<g id="n81c" class="mauve"><circle cx="1536" cy="1960" r="16.5"/><text x="1536" y="1973">11-N-4</text></g>
<g id="n82a" class="limegreen"><circle cx="1670" cy="1775" r="16.5"/><text x="1670" y="1788">13-O-10</text></g>
<g id="n82b" class="limegreen"><circle cx="1670" cy="1867" r="16.5"/><text x="1670" y="1880">12-O-5</text></g>
<g id="n82c" class="limegreen"><circle cx="1670" cy="1960" r="16.5"/><text x="1670" y="1973">11-N-4</text></g>
<g id="n83a" class="sky"><circle cx="1516" cy="2043" r="16.5"/><text x="1516" y="2056">11-O-10</text></g>
<g id="n83b" class="sky"><circle cx="1516" cy="2135" r="16.5"/><text x="1516" y="2148">11-N-4</text></g>
<g id="n83c" class="sky"><circle cx="1516" cy="2228" r="16.5"/><text x="1516" y="2241">13-N-4</text></g>
<g id="n84a" class="red"><circle cx="1650" cy="2043" r="16.5"/><text x="1650" y="2056">13-P-1</text></g>
<g id="n84b" class="red"><circle cx="1650" cy="2135" r="16.5"/><text x="1650" y="2148">11-N-1</text></g>
<g id="n84c" class="red"><circle cx="1650" cy="2228" r="16.5"/><text x="1650" y="2241">11-O-10</text></g>
<g id="n85a" class="mint"><circle cx="1511" cy="2313" r="16.5"/><text x="1511" y="2326">11-N-9</text></g>
<g id="n85b" class="mint"><circle cx="1511" cy="2405" r="16.5"/><text x="1511" y="2418">12-O-5</text></g>
<g id="n85c" class="mint"><circle cx="1511" cy="2498" r="16.5"/><text x="1511" y="2511">13-N-5</text></g>
<g id="n86a" class="violet"><circle cx="1646" cy="2313" r="16.5"/><text x="1646" y="2326">13-O-7</text></g>
<g id="n86b" class="violet"><circle cx="1646" cy="2405" r="16.5"/><text x="1646" y="2418">13-O-5</text></g>
<g id="n86c" class="violet"><circle cx="1646" cy="2498" r="16.5"/><text x="1646" y="2511">11-N-9</text></g>
<g id="n87a" class="lemon"><circle cx="1804" cy="1986" r="16.5"/><text x="1804" y="1999">13-N-21</text></g>
<g id="n87b" class="lemon"><circle cx="1804" cy="2078" r="16.5"/><text x="1804" y="2091">13-P-8</text></g>
<g id="n87c" class="lemon"><circle cx="1804" cy="2171" r="16.5"/><text x="1804" y="2184">13-N-5</text></g>
<g id="n88a" class="sky"><circle cx="1785" cy="2254" r="16.5"/><text x="1785" y="2267">12-N-3</text></g>
<g id="n88b" class="sky"><circle cx="1785" cy="2346" r="16.5"/><text x="1785" y="2359">12-O-5</text></g>
<g id="n88c" class="sky"><circle cx="1785" cy="2439" r="16.5"/><text x="1785" y="2452">13-N-16</text></g>
<g id="n89a" class="greyviolet"><circle cx="1958" cy="1909" r="16.5"/><text x="1958" y="1922">11-O-10</text></g>
<g id="n89b" class="greyviolet"><circle cx="1958" cy="2001" r="16.5"/><text x="1958" y="2014">11-N-1</text></g>
<g id="n89c" class="greyviolet"><circle cx="1958" cy="2094" r="16.5"/><text x="1958" y="2107">13-P-8</text></g>
<g id="n90a" class="pinkred"><circle cx="1938" cy="2179" r="16.5"/><text x="1938" y="2192">11-N-9</text></g>
<g id="n90b" class="pinkred"><circle cx="1938" cy="2271" r="16.5"/><text x="1938" y="2284">12-O-5</text></g>
<g id="n90c" class="pinkred"><circle cx="1938" cy="2364" r="16.5"/><text x="1938" y="2377">13-O-11</text></g>
<g id="n91a" class="violet"><circle cx="2131" cy="1812" r="16.5"/><text x="2131" y="1825">13-N-5</text></g>
<g id="n91b" class="violet"><circle cx="2131" cy="1904" r="16.5"/><text x="2131" y="1917">11-N-1</text></g>
<g id="n91c" class="violet"><circle cx="2131" cy="1997" r="16.5"/><text x="2131" y="2010">11-O-10</text></g>
<g id="n92a" class="orange"><circle cx="2092" cy="2081" r="16.5"/><text x="2092" y="2094">11-O-10</text></g>
<g id="n92b" class="orange"><circle cx="2092" cy="2173" r="16.5"/><text x="2092" y="2186">13-O-5</text></g>
<g id="n92c" class="orange"><circle cx="2092" cy="2266" r="16.5"/><text x="2092" y="2279">13-P-10</text></g>
<g id="n93a" class="violetblue"><circle cx="2068" cy="2351" r="16.5"/><text x="2068" y="2364">13-P-8</text></g>
<g id="n93b" class="violetblue"><circle cx="2068" cy="2443" r="16.5"/><text x="2068" y="2456">13-O-7</text></g>
<g id="n93c" class="violetblue"><circle cx="2068" cy="2536" r="16.5"/><text x="2068" y="2549">11-N-4</text></g>
<g id="n94a" class="greyviolet"><circle cx="2226" cy="2218" r="16.5"/><text x="2226" y="2231">11-N-9</text></g>
<g id="n94b" class="greyviolet"><circle cx="2226" cy="2310" r="16.5"/><text x="2226" y="2323">13-O-5</text></g>
<g id="n94c" class="greyviolet"><circle cx="2226" cy="2403" r="16.5"/><text x="2226" y="2416">13-N-16</text></g>
<g id="n95a" class="red"><circle cx="2265" cy="1948" r="16.5"/><text x="2265" y="1961">10-P-1</text></g>
<g id="n95b" class="red"><circle cx="2265" cy="2040" r="16.5"/><text x="2265" y="2053">13-N-4</text></g>
<g id="n95c" class="red"><circle cx="2265" cy="2133" r="16.5"/><text x="2265" y="2146">13-N-21</text></g>
<g id="n96a" class="yellow"><circle cx="2342" cy="1678" r="16.5"/><text x="2342" y="1691">11-O-10</text></g>
<g id="n96b" class="yellow"><circle cx="2342" cy="1770" r="16.5"/><text x="2342" y="1783">12-N-3</text></g>
<g id="n96c" class="yellow"><circle cx="2342" cy="1863" r="16.5"/><text x="2342" y="1876">13-N-15</text></g>
<g id="n97a" class="aqua"><circle cx="2476" cy="1814" r="16.5"/><text x="2476" y="1827">11-O-10</text></g>
<g id="n97b" class="aqua"><circle cx="2476" cy="1906" r="16.5"/><text x="2476" y="1919">13-O-5</text></g>
<g id="n97c" class="aqua"><circle cx="2476" cy="1999" r="16.5"/><text x="2476" y="2012">13-O-11</text></g>
<g id="n98a" class="yellow"><circle cx="2399" cy="2082" r="16.5"/><text x="2399" y="2095">11-O-10</text></g>
<g id="n98b" class="yellow"><circle cx="2399" cy="2174" r="16.5"/><text x="2399" y="2187">12-O-5</text></g>
<g id="n98c" class="yellow"><circle cx="2399" cy="2267" r="16.5"/><text x="2399" y="2280">13-P-10</text></g>
<g id="n99a" class="greyviolet"><circle cx="2606" cy="1949" r="16.5"/><text x="2606" y="1962">11-N-1</text></g>
<g id="n99b" class="greyviolet"><circle cx="2606" cy="2041" r="16.5"/><text x="2606" y="2054">12-O-5</text></g>
<g id="n99c" class="greyviolet"><circle cx="2606" cy="2134" r="16.5"/><text x="2606" y="2147">13-N-5</text></g>
<g id="n100a" class="orange"><circle cx="2533" cy="2217" r="16.5"/><text x="2533" y="2230">13-N-16</text></g>
<g id="n100b" class="orange"><circle cx="2533" cy="2309" r="16.5"/><text x="2533" y="2322">13-O-5</text></g>
<g id="n100c" class="orange"><circle cx="2533" cy="2402" r="16.5"/><text x="2533" y="2415">11-O-10</text></g>
<g id="n101a" class="lightorange"><circle cx="2356" cy="2351" r="16.5"/><text x="2356" y="2364">13-P-8</text></g>
<g id="n101b" class="lightorange"><circle cx="2356" cy="2443" r="16.5"/><text x="2356" y="2456">12-O-5</text></g>
<g id="n101c" class="lightorange"><circle cx="2356" cy="2536" r="16.5"/><text x="2356" y="2549">12-N-3</text></g>
<g id="n102a" class="red"><circle cx="2662" cy="2351" r="16.5"/><text x="2662" y="2364">11-N-9</text></g>
<g id="n102b" class="red"><circle cx="2662" cy="2443" r="16.5"/><text x="2662" y="2456">11-N-1</text></g>
<g id="n102c" class="red"><circle cx="2662" cy="2536" r="16.5"/><text x="2662" y="2549">13-P-8</text></g>
</g>
</svg>
